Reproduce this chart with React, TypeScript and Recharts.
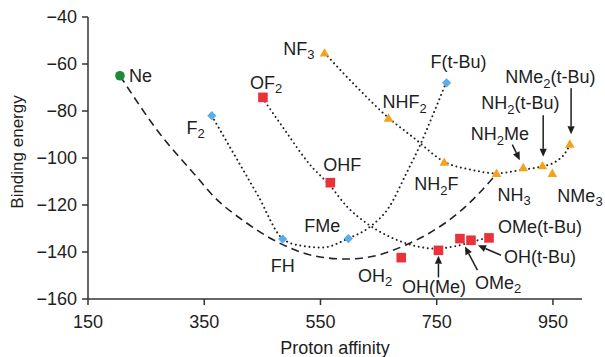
import React from 'react';
import { ComposedChart, Line, Scatter, XAxis, YAxis, Label } from 'recharts';

// ---- marker data (proton affinity, binding energy) ----
const neNames = ['Ne'];
const neX = [205];
const neY = [-65];

const fNames = ['F_2', 'FH', 'FMe', 'F(t-Bu)'];
const fX = [363, 485, 598, 767];
const fY = [-82, -134.5, -134.3, -68];

const oNames = ['OF_2', 'OHF', 'OH_2', 'OH(Me)', 'OMe_2', 'OH(t-Bu)', 'OMe(t-Bu)'];
const oX = [451, 567, 689, 753, 790, 809, 840];
const oY = [-74.2, -110.5, -142.4, -139.3, -134.3, -135, -134];

const nNames = ['NF_3', 'NHF_2', 'NH_2F', 'NH_3', 'NH_2Me', 'NH_2(t-Bu)', 'NMe_3', 'NMe_2(t-Bu)'];
const nX = [557, 667, 763, 853, 899, 932, 949, 979];
const nY = [-55.3, -83, -101.8, -106.5, -104.1, -103.3, -106.5, -94.1];

// ---- trend curves ----
const dashX = [205, 270, 337, 365, 422, 474, 537, 594, 651, 697, 737, 789, 823, 852];
const dashY = [-65, -88.5, -108, -116, -127.5, -135.5, -141.5, -143, -141.2, -137, -132, -123, -115, -107];

const fCurveX = [363, 399, 442, 485, 514, 553, 598, 634, 668, 698, 720, 742, 766];
const fCurveY = [-82, -97.4, -115.8, -134.4, -137.2, -138.1, -134.2, -129.5, -120.9, -106.4, -95.3, -82.5, -68];

const oCurveX = [450, 492, 531, 566, 595, 629, 669, 708, 749, 784, 818, 840];
const oCurveY = [-74.4, -89.3, -102.6, -111.6, -120.5, -127.7, -133.5, -137.1, -138.6, -137.4, -135.2, -133.7];

const nCurveX = [557, 612, 667, 711, 763, 811, 852, 900, 931, 955, 971, 979];
const nCurveY = [-55.3, -69.7, -82.9, -91.5, -101.6, -105.1, -106.5, -104.9, -103.6, -101.5, -97.9, -94.4];

const xTicks = [150, 350, 550, 750, 950];
const yTicks = [-160, -140, -120, -100, -80, -60, -40];

const pts = (names: string[], xs: number[], ys: number[]) =>
  xs.map((x, i) => ({ name: names[i], x, y: ys[i] }));
const curve = (xs: number[], ys: number[]) => xs.map((x, i) => ({ x, y: ys[i] }));

const FONT = '"Liberation Sans", Arial, Helvetica, sans-serif';
const INK = '#1e1e1e';
const FS = 18;

// label placement relative to marker centre; arrow = [x1, y1, x2, y2]
const LABELS: Record<string, { dx: number; dy: number; anchor: 'start' | 'middle' | 'end'; arrow?: number[] }> = {
  'Ne': { dx: 9, dy: 6, anchor: 'start' },
  'F_2': { dx: -7, dy: 18, anchor: 'end' },
  'FH': { dx: 0, dy: 33, anchor: 'middle' },
  'FMe': { dx: -8, dy: -7, anchor: 'end' },
  'F(t-Bu)': { dx: 12, dy: -15, anchor: 'middle' },
  'OF_2': { dx: -13, dy: -8.5, anchor: 'start' },
  'OHF': { dx: -7, dy: -12, anchor: 'start' },
  'OH_2': { dx: -9, dy: 24, anchor: 'end' },
  'OH(Me)': { dx: -4.5, dy: 42.5, anchor: 'middle', arrow: [0, 27, 0, 5.5] },
  'OMe_2': { dx: 15, dy: 50, anchor: 'start', arrow: [17.5, 31.5, 5, 8] },
  'OH(t-Bu)': { dx: 33, dy: 22.5, anchor: 'start', arrow: [30, 15, 7, 5] },
  'OMe(t-Bu)': { dx: 9, dy: -4.5, anchor: 'start' },
  'NF_3': { dx: -10, dy: 1.7, anchor: 'end' },
  'NHF_2': { dx: -6, dy: -10, anchor: 'start' },
  'NH_2F': { dx: -30, dy: 28, anchor: 'start' },
  'NH_3': { dx: 1, dy: 27.5, anchor: 'start' },
  'NH_2Me': { dx: -23.5, dy: -27.5, anchor: 'middle', arrow: [-11, -23, -3.5, -7.5] },
  'NH_2(t-Bu)': { dx: -22, dy: -56.5, anchor: 'middle', arrow: [0.7, -50.5, 0.7, -9] },
  'NMe_3': { dx: 5, dy: 28.5, anchor: 'start' },
  'NMe_2(t-Bu)': { dx: -19.5, dy: -61, anchor: 'middle', arrow: [1.3, -56, 1.3, -10] },
};

// "NH_2(t-Bu)" -> N H <sub>2</sub> (t-Bu)
function RichText({ text, x, y, anchor }: { text: string; x: number; y: number; anchor: string }) {
  const parts = text.split(/_(\d)/);
  let shifted = false;
  const spans: React.ReactNode[] = [];
  parts.forEach((p, i) => {
    if (!p) return;
    const sub = i % 2 === 1;
    let dy = 0;
    if (sub && !shifted) { dy = 4.5; shifted = true; }
    else if (!sub && shifted) { dy = -4.5; shifted = false; }
    spans.push(
      <tspan key={i} dy={dy} fontSize={sub ? 13 : FS}>{p}</tspan>
    );
  });
  return (
    <text x={x} y={y} textAnchor={anchor as any} fontFamily={FONT} fontSize={FS} fill={INK}>
      {spans}
    </text>
  );
}

function Arrow({ x1, y1, x2, y2 }: { x1: number; y1: number; x2: number; y2: number }) {
  const ang = Math.atan2(y2 - y1, x2 - x1);
  const len = 8, half = 3.6;
  const bx = x2 - len * Math.cos(ang), by = y2 - len * Math.sin(ang);
  const px = -Math.sin(ang) * half, py = Math.cos(ang) * half;
  return (
    <g>
      <line x1={x1} y1={y1} x2={bx} y2={by} stroke={INK} strokeWidth={1.5} />
      <polygon points={`${x2},${y2} ${bx + px},${by + py} ${bx - px},${by - py}`} fill={INK} />
    </g>
  );
}

const makeShape = (kind: string) => (props: any) => {
  const { cx, cy, payload } = props;
  if (cx == null || cy == null) return <g />;
  let mark: React.ReactNode = null;
  if (kind === 'circle') mark = <circle cx={cx} cy={cy} r={4.8} fill="#1d8a3b" />;
  if (kind === 'diamond')
    mark = <path d={`M${cx},${cy - 4.6}L${cx + 4.6},${cy}L${cx},${cy + 4.6}L${cx - 4.6},${cy}Z`} fill="#58aee8" />;
  if (kind === 'square') mark = <rect x={cx - 4.8} y={cy - 4.8} width={9.6} height={9.6} fill="#e8333a" />;
  if (kind === 'triangle')
    mark = <path d={`M${cx},${cy - 4.8}L${cx + 4.8},${cy + 3.6}L${cx - 4.8},${cy + 3.6}Z`} fill="#f4a21e" />;
  const lab = LABELS[payload.name];
  return (
    <g>
      {mark}
      {lab && lab.arrow && (
        <Arrow x1={cx + lab.arrow[0]} y1={cy + lab.arrow[1]} x2={cx + lab.arrow[2]} y2={cy + lab.arrow[3]} />
      )}
      {lab && <RichText text={payload.name} x={cx + lab.dx} y={cy + lab.dy} anchor={lab.anchor} />}
    </g>
  );
};

const minus = (v: number) => (v < 0 ? '\u2212' + Math.abs(v) : String(v));
const tickStyle = { fill: INK, fontSize: FS, fontFamily: FONT };

export default function App() {
  return (
    <div style={{ position: 'absolute', left: 0, top: 0, width: 605, height: 357, background: '#fff' }}>
      <ComposedChart width={605} height={357} margin={{ top: 17, right: 23, bottom: 18, left: 28 }}>
        <XAxis
          type="number"
          dataKey="x"
          domain={[150, 1000]}
          ticks={xTicks}
          height={40}
          stroke="#333"
          strokeWidth={1.5}
          tickSize={6}
          tickMargin={10}
          tick={tickStyle}
          tickLine={{ stroke: '#333', strokeWidth: 1.5 }}
        >
          <Label
            content={() => (
              <text x={335} y={354} textAnchor="middle" fontFamily={FONT} fontSize={FS} fill={INK}>
                Proton affinity
              </text>
            )}
          />
        </XAxis>
        <YAxis
          type="number"
          dataKey="y"
          domain={[-160, -40]}
          ticks={yTicks}
          width={60}
          stroke="#333"
          strokeWidth={1.5}
          tickSize={6}
          tickMargin={5}
          tick={tickStyle}
          tickFormatter={minus}
          tickLine={{ stroke: '#333', strokeWidth: 1.5 }}
        >
          <Label
            content={() => (
              <text transform="translate(23,152) rotate(-90)" textAnchor="middle" fontFamily={FONT} fontSize={17} fill={INK}>
                Binding energy
              </text>
            )}
          />
        </YAxis>

        <Line data={curve(dashX, dashY)} dataKey="y" type="monotone" stroke="#222" strokeWidth={1.6}
          strokeDasharray="8 5" dot={false} activeDot={false} isAnimationActive={false} />
        <Line data={curve(fCurveX, fCurveY)} dataKey="y" type="monotone" stroke="#222" strokeWidth={2}
          strokeDasharray="0.01 4.6" strokeLinecap="round" dot={false} activeDot={false} isAnimationActive={false} />
        <Line data={curve(oCurveX, oCurveY)} dataKey="y" type="monotone" stroke="#222" strokeWidth={2}
          strokeDasharray="0.01 4.6" strokeLinecap="round" dot={false} activeDot={false} isAnimationActive={false} />
        <Line data={curve(nCurveX, nCurveY)} dataKey="y" type="monotone" stroke="#222" strokeWidth={2}
          strokeDasharray="0.01 4.6" strokeLinecap="round" dot={false} activeDot={false} isAnimationActive={false} />

        <Scatter data={pts(neNames, neX, neY)} dataKey="y" shape={makeShape('circle')} isAnimationActive={false} />
        <Scatter data={pts(fNames, fX, fY)} dataKey="y" shape={makeShape('diamond')} isAnimationActive={false} />
        <Scatter data={pts(oNames, oX, oY)} dataKey="y" shape={makeShape('square')} isAnimationActive={false} />
        <Scatter data={pts(nNames, nX, nY)} dataKey="y" shape={makeShape('triangle')} isAnimationActive={false} />
      </ComposedChart>
    </div>
  );
}
